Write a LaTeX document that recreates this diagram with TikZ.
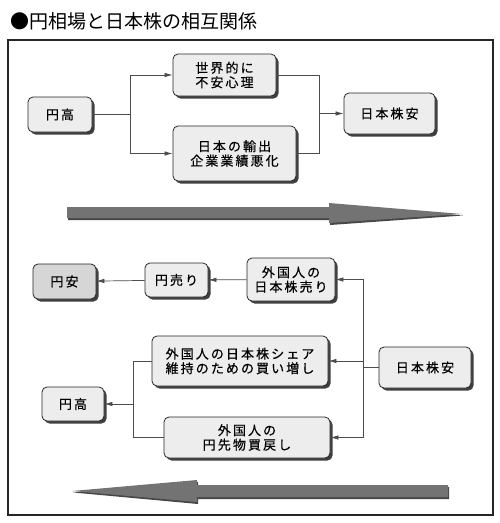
\documentclass[tikz,border=0pt]{standalone}
\usepackage{fontspec}
\setmainfont{Noto Sans CJK JP}
\newfontfamily\boxfont[LetterSpace=16, FakeBold=0.5]{Noto Sans CJK JP}
\usetikzlibrary{arrows.meta,shadows}

\definecolor{boxfill}{HTML}{EDEDED}
\definecolor{boxdark}{HTML}{D6D6D6}
\definecolor{bigarrow}{HTML}{737373}
\definecolor{bigshadow}{HTML}{474747}

\tikzset{
  box/.style={draw=black!85, line width=0.8pt, fill=boxfill, rounded corners=5pt,
    align=center, inner sep=0pt, font=\boxfont\fontsize{13}{14.5}\selectfont,
    drop shadow={shadow xshift=2.5pt, shadow yshift=-2.5pt, fill=black!75, opacity=1}},
  link/.style={draw=black!70, line width=0.7pt},
  arrow/.style={link, -{Latex[length=8pt,width=4.5pt]}},
}

\begin{document}
\begin{tikzpicture}[x=1pt, y=-1pt]

  \useasboundingbox[fill=white] (0,0) rectangle (500,523);

  \node[anchor=west, font=\fontsize{19}{22}\selectfont] (title) at (7,21) {●円相場と日本株の相互関係};
  \draw[line width=2pt, black!85] (8,40) rectangle (493,515);

  % upper half
  \node[box, minimum width=64, minimum height=35] (highA) at (60,114.5) {円高};
  \node[box, minimum width=103, minimum height=42] (anxiety) at (224.5,75) {世界的に\\不安心理};
  \node[box, minimum width=123, minimum height=55] (export) at (234.5,153.5) {日本の輸出\\企業業績悪化};
  \node[box, minimum width=91, minimum height=41] (stocksA) at (389.5,113.5) {日本株安};

  \coordinate (forkA) at (130,114.5);
  \coordinate (joinA) at (319,113.5);
  \draw[link] (highA) -- (forkA);
  \draw[arrow] (forkA) |- (anxiety.west);
  \draw[arrow] (forkA) |- (export.west);
  \draw[link] (anxiety.east) -| (joinA);
  \draw[link] (export.east) -| (joinA);
  \draw[arrow] (joinA) -- (stocksA);

  \fill[bigshadow] (68,209) -- (330,209) -- (330,205) -- (463,215.5) -- (330,225) -- (330,220) -- (68,220) -- cycle;
  \fill[bigarrow] (67,207) -- (329,207) -- (329,203) -- (462,214) -- (329,223) -- (329,218) -- (67,218) -- cycle;

  % lower half
  \node[box, fill=boxdark, minimum width=63, minimum height=35] (lowB) at (64.5,281.5) {円安};
  \node[box, minimum width=63, minimum height=34] (yensale) at (176.5,280) {円売り};
  \node[box, minimum width=88, minimum height=43] (stocksale) at (291,279.5) {外国人の\\日本株売り};
  \node[box, minimum width=176, minimum height=50] (share) at (240,361) {外国人の日本株シェア\\維持のための買い増し};
  \node[box, minimum width=62, minimum height=34] (highB) at (73,404) {円高};
  \node[box, minimum width=166, minimum height=41] (futures) at (247,437.5) {外国人の\\円先物買戻し};
  \node[box, minimum width=92, minimum height=41] (stocksB) at (425,367.5) {日本株安};

  \coordinate (forkB) at (363,367.5);
  \coordinate (joinB) at (133,404);
  \draw[link] (stocksB) -- (forkB);
  \draw[arrow] (forkB) |- (stocksale.east);
  \draw[arrow] (forkB) |- (share.east);
  \draw[arrow] (forkB) |- (futures.east);
  \draw[arrow] (stocksale) -- (yensale);
  \draw[arrow] (yensale) -- (lowB);
  \draw[link] (share.west) -| (joinB);
  \draw[link] (futures.west) -| (joinB);
  \draw[arrow] (joinB) -- (highB);

  \fill[bigshadow] (449,487) -- (198,487) -- (198,482) -- (73,492.5) -- (198,504) -- (198,499) -- (449,499) -- cycle;
  \fill[bigarrow] (448,485) -- (197,485) -- (197,480) -- (72,491) -- (197,502) -- (197,497) -- (448,497) -- cycle;

\end{tikzpicture}
\end{document}
